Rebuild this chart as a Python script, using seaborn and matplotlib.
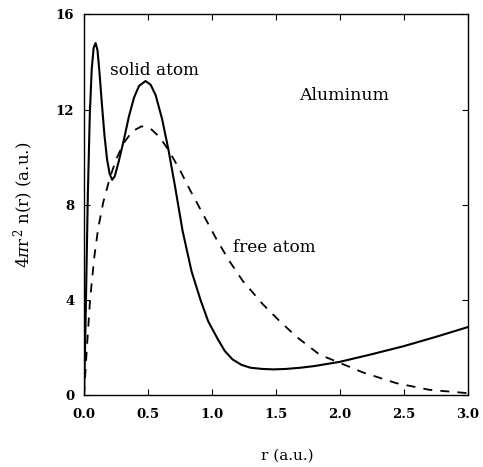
import matplotlib
matplotlib.use("Agg")
import matplotlib.pyplot as plt
import seaborn as sns
import pandas as pd

# Data
r_solid = [0.0, 0.01, 0.02, 0.03, 0.045, 0.06, 0.075, 0.09, 0.105, 0.12, 0.14, 0.16, 0.18, 0.2, 0.22,
           0.24, 0.27, 0.31, 0.35, 0.39, 0.43, 0.48, 0.52, 0.56, 0.61, 0.66, 0.71, 0.77, 0.84, 0.91,
           0.97, 1.04, 1.1, 1.16, 1.23, 1.3, 1.39, 1.48, 1.58, 1.69, 1.8, 2.0, 2.25, 2.5, 2.75, 3.0]
n_solid = [0.0, 2.5, 5.5, 8.5, 11.8, 13.7, 14.6, 14.8, 14.5, 13.6, 12.2, 10.9, 9.9, 9.3, 9.05,
           9.2, 9.8, 10.7, 11.7, 12.5, 13.0, 13.2, 13.05, 12.6, 11.6, 10.3, 8.8, 6.9, 5.2, 4.0,
           3.1, 2.4, 1.85, 1.5, 1.27, 1.15, 1.1, 1.08, 1.1, 1.15, 1.22, 1.4, 1.72, 2.06, 2.45, 2.86]

r_free = [0.0, 0.02, 0.047, 0.08, 0.11, 0.15, 0.2, 0.25, 0.31, 0.38, 0.45, 0.52, 0.59, 0.66, 0.75,
          0.83, 0.91, 1.04, 1.14, 1.24, 1.4, 1.53, 1.66, 1.84, 2.0, 2.18, 2.44, 2.7, 3.0]
n_free = [0.0, 1.8, 4.0, 5.8, 7.0, 8.1, 9.1, 9.9, 10.6, 11.1, 11.3, 11.2, 10.85, 10.3, 9.45,
          8.6, 7.8, 6.5, 5.6, 4.8, 3.8, 3.1, 2.45, 1.7, 1.35, 0.95, 0.5, 0.22, 0.08]

x_ticks = [0.0, 0.5, 1.0, 1.5, 2.0, 2.5, 3.0]
x_tick_labels = ["0.0", "0.5", "1.0", "1.5", "2.0", "2.5", "3.0"]
y_ticks = [0, 4, 8, 12, 16]
y_tick_labels = ["0", "4", "8", "12", "16"]

sns.set_theme(style="ticks")
plt.rcParams["font.family"] = ["DejaVu Serif", "Liberation Serif"]
plt.rcParams["mathtext.fontset"] = "dejavuserif"
plt.rcParams["text.color"] = "black"
plt.rcParams["axes.labelcolor"] = "black"
plt.rcParams["xtick.color"] = "black"
plt.rcParams["ytick.color"] = "black"

fig = plt.figure(figsize=(4.83, 4.67), dpi=100)
ax = fig.add_axes([0.174, 0.154, 0.795, 0.815])

df_s = pd.DataFrame({"r": r_solid, "n": n_solid})
df_f = pd.DataFrame({"r": r_free, "n": n_free})
sns.lineplot(data=df_s, x="r", y="n", ax=ax, color="black", linewidth=1.5, sort=False)
sns.lineplot(data=df_f, x="r", y="n", ax=ax, color="black", linewidth=1.3, sort=False,
             dashes=False, linestyle=(0, (5, 4.5)))

ax.set_xlim(0, 3.0)
ax.set_ylim(0, 16)
ax.set_xticks(x_ticks)
ax.set_xticklabels(x_tick_labels, fontweight="bold")
ax.set_yticks(y_ticks)
ax.set_yticklabels(y_tick_labels, fontweight="bold")
ax.tick_params(direction="in", top=True, right=True, length=4, width=0.8,
               labelsize=9.5, colors="black", labelcolor="black")
ax.tick_params(axis="x", pad=9)
ax.tick_params(axis="y", pad=7)
for s in ax.spines.values():
    s.set_linewidth(1.0)
    s.set_color("black")

ax.set_xlabel("r (a.u.)", fontsize=11, color="black")
ax.xaxis.set_label_coords(0.53, -0.14)
ax.set_ylabel(r"4$\pi$r$^{\,2}$ n(r) (a.u.)", fontsize=12, color="black")
ax.yaxis.set_label_coords(-0.125, 0.5)

ax.text(0.55, 13.65, "solid atom", fontsize=12.2, ha="center", va="center", color="black")
ax.text(1.49, 6.2, "free atom", fontsize=12.2, ha="center", va="center", color="black")
ax.text(2.03, 12.6, "Aluminum", fontsize=12.5, ha="center", va="center", color="black")

fig.savefig("out.png", dpi=100)
